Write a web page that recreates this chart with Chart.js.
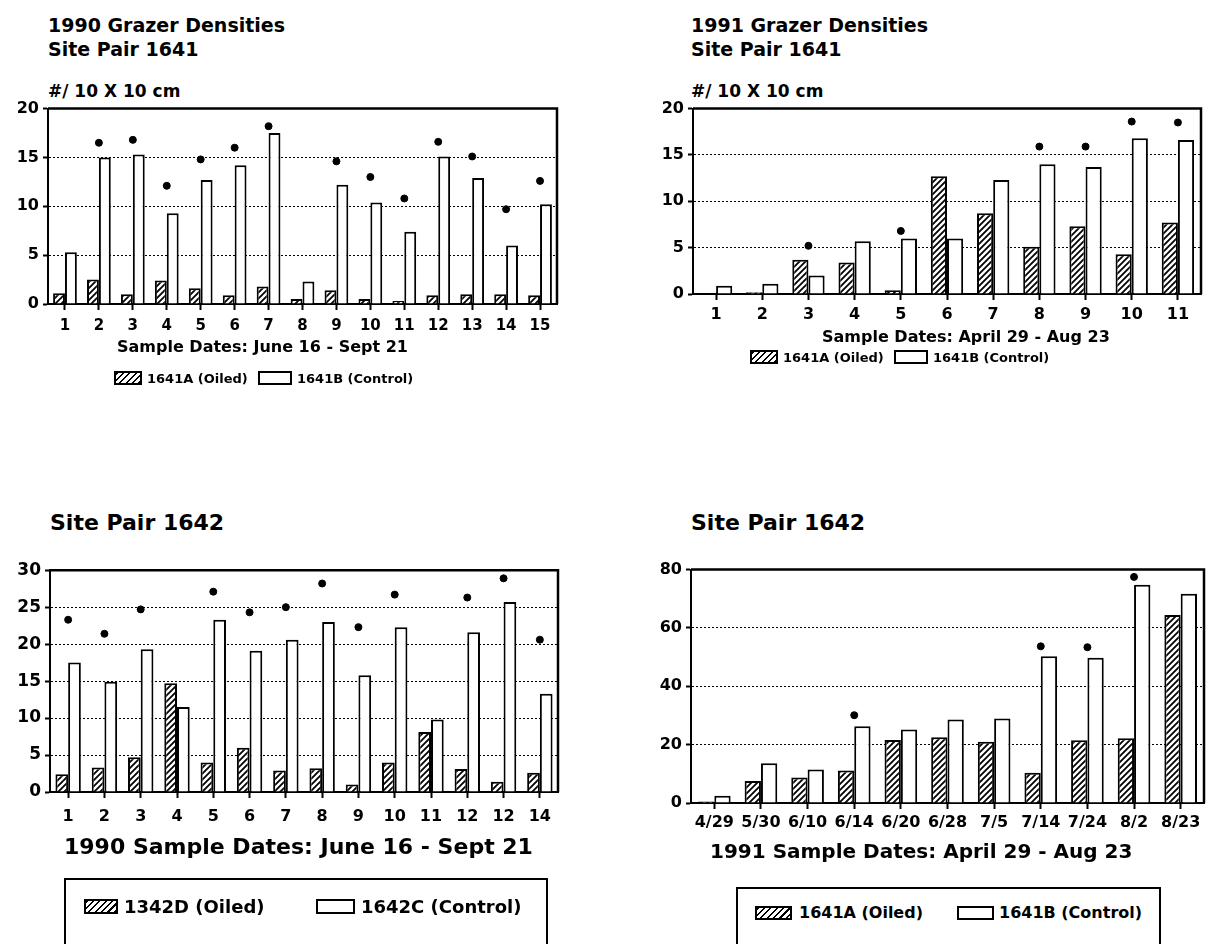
<!DOCTYPE html>
<html>
<head>
<meta charset="utf-8">
<script src="https://cdn.jsdelivr.net/npm/chart.js@4.4.0/dist/chart.umd.min.js"></script>
<style>
  body { margin:0; width:1209px; height:944px; background:#fff; position:relative; overflow:hidden;
         font-family:"DejaVu Sans", sans-serif; font-weight:bold; color:#000; }
  .t { position:absolute; white-space:nowrap; line-height:1; }
  canvas { position:absolute; }
  .sw { position:absolute; border:2px solid #000; box-sizing:border-box; background:#fff; }
  .sw.hatch { background:repeating-linear-gradient(135deg, #000 0 1.6px, #fff 1.6px 4.5px); }
  .lbox { position:absolute; border:2px solid #000; box-sizing:border-box; }
</style>
</head>
<body>

<!-- top left -->
<div class="t" style="left:48px;top:13px;font-size:19px;line-height:24px">1990 Grazer Densities<br>Site Pair 1641</div>
<div class="t" style="left:48px;top:83px;font-size:17px">#/ 10 X 10 cm</div>
<canvas id="c1" width="565" height="250" style="left:0;top:95px"></canvas>
<div class="t" style="left:117px;top:339px;font-size:16px">Sample Dates: June 16 - Sept 21</div>
<div class="sw hatch" style="left:114px;top:371px;width:28px;height:14px"></div>
<div class="t" style="left:147px;top:372px;font-size:13px">1641A (Oiled)</div>
<div class="sw" style="left:258px;top:371px;width:34px;height:14px"></div>
<div class="t" style="left:297px;top:372px;font-size:13px">1641B (Control)</div>

<!-- top right -->
<div class="t" style="left:691px;top:13px;font-size:19px;line-height:24px">1991 Grazer Densities<br>Site Pair 1641</div>
<div class="t" style="left:691px;top:83px;font-size:17px">#/ 10 X 10 cm</div>
<canvas id="c2" width="609" height="235" style="left:600px;top:95px"></canvas>
<div class="t" style="left:822px;top:329px;font-size:16px">Sample Dates: April 29 - Aug 23</div>
<div class="sw hatch" style="left:750px;top:350px;width:28px;height:14px"></div>
<div class="t" style="left:783px;top:351px;font-size:13px">1641A (Oiled)</div>
<div class="sw" style="left:894px;top:350px;width:34px;height:14px"></div>
<div class="t" style="left:933px;top:351px;font-size:13px">1641B (Control)</div>

<!-- bottom left -->
<div class="t" style="left:50px;top:512px;font-size:22px">Site Pair 1642</div>
<canvas id="c3" width="565" height="284" style="left:0;top:556px"></canvas>
<div class="t" style="left:64px;top:836px;font-size:22px">1990 Sample Dates: June 16 - Sept 21</div>
<div class="lbox" style="left:64px;top:878px;width:484px;height:68px"></div>
<div class="sw hatch" style="left:84px;top:899px;width:34px;height:15px"></div>
<div class="t" style="left:124px;top:898px;font-size:18px">1342D (Oiled)</div>
<div class="sw" style="left:316px;top:899px;width:39px;height:15px"></div>
<div class="t" style="left:361px;top:898px;font-size:18px">1642C (Control)</div>

<!-- bottom right -->
<div class="t" style="left:691px;top:512px;font-size:22px">Site Pair 1642</div>
<canvas id="c4" width="609" height="284" style="left:600px;top:556px"></canvas>
<div class="t" style="left:710px;top:841px;font-size:20px">1991 Sample Dates: April 29 - Aug 23</div>
<div class="lbox" style="left:736px;top:887px;width:425px;height:60px"></div>
<div class="sw hatch" style="left:755px;top:906px;width:37px;height:14px"></div>
<div class="t" style="left:799px;top:905px;font-size:16px">1641A (Oiled)</div>
<div class="sw" style="left:957px;top:906px;width:37px;height:14px"></div>
<div class="t" style="left:999px;top:905px;font-size:16px">1641B (Control)</div>

<script>
// 1990, site pair 1641
const dates1641_90 = ["1","2","3","4","5","6","7","8","9","10","11","12","13","14","15"];
const oiled1641_90 = [1.1, 2.5, 1.0, 2.4, 1.6, 0.9, 1.8, 0.5, 1.4, 0.5, 0.3, 0.9, 1.0, 1.0, 0.9];
const control1641_90 = [5.3, 15.0, 15.3, 9.3, 12.7, 14.2, 17.5, 2.3, 12.2, 10.4, 7.4, 15.1, 12.9, 6.0, 10.2];
const marks1641_90 = [null, 16.5, 16.8, 12.1, 14.8, 16.0, 18.2, null, 14.6, 13.0, 10.8, 16.6, 15.1, 9.7, 12.6];

// 1991, site pair 1641
const dates1641_91 = ["1","2","3","4","5","6","7","8","9","10","11"];
const oiled1641_91 = [0, 0.2, 3.7, 3.4, 0.4, 12.7, 8.7, 5.1, 7.3, 4.3, 7.7];
const control1641_91 = [0.9, 1.1, 2.0, 5.7, 6.0, 6.0, 12.3, 14.0, 13.7, 16.8, 16.6];
const marks1641_91 = [null, null, 5.2, null, 6.8, null, null, 15.9, 15.9, 18.6, 18.5];

// 1990, site pair 1642
const dates1642_90 = ["1","2","3","4","5","6","7","8","9","10","11","12","12","14"];
const oiled1642_90 = [2.4, 3.3, 4.7, 14.7, 4.0, 6.0, 2.9, 3.2, 1.0, 4.0, 8.1, 3.1, 1.4, 2.6];
const control1642_90 = [17.5, 14.9, 19.3, 11.5, 23.3, 19.1, 20.6, 23.0, 15.8, 22.3, 9.8, 21.6, 25.7, 13.3];
const marks1642_90 = [23.3, 21.4, 24.7, null, 27.1, 24.3, 25.0, 28.2, 22.3, 26.7, null, 26.3, 28.9, 20.6];

// 1991, site pair 1642
const dates1642_91 = ["4/29","5/30","6/10","6/14","6/20","6/28","7/5","7/14","7/24","8/2","8/23"];
const oiled1642_91 = [0.5, 7.5, 8.7, 11.1, 21.6, 22.5, 21.0, 10.4, 21.5, 22.2, 64.4];
const control1642_91 = [2.5, 13.6, 11.5, 26.3, 25.2, 28.6, 29.0, 50.3, 49.8, 74.8, 71.7];
const marks1642_91 = [null, null, null, 30.1, null, null, null, 53.7, 53.4, 77.5, null];

// diagonal hatch for the oiled bars
function hatch() {
  const c = document.createElement("canvas");
  c.width = 6; c.height = 6;
  const g = c.getContext("2d");
  g.fillStyle = "#fff";
  g.fillRect(0, 0, 6, 6);
  g.strokeStyle = "#000";
  g.lineWidth = 1.8;
  g.beginPath();
  g.moveTo(-1, 7); g.lineTo(7, -1);
  g.moveTo(-1, 1); g.lineTo(1, -1);
  g.moveTo(5, 7); g.lineTo(7, 5);
  g.stroke();
  return g.createPattern(c, "repeat");
}

// solid top and right edge of the plot box
const frame = {
  id: "frame",
  afterDraw(chart) {
    const a = chart.chartArea, ctx = chart.ctx;
    ctx.save();
    ctx.strokeStyle = "#000";
    ctx.lineWidth = 2.5;
    ctx.beginPath();
    ctx.moveTo(a.left, a.top);
    ctx.lineTo(a.right, a.top);
    ctx.lineTo(a.right, a.bottom);
    ctx.stroke();
    ctx.restore();
  }
};

function grazerChart(id, labels, oiled, control, marks, o) {
  const font = size => ({ family: "DejaVu Sans", weight: "bold", size: size });
  return new Chart(document.getElementById(id), {
    type: "bar",
    data: {
      labels: labels,
      datasets: [
        { label: "Oiled", data: oiled, backgroundColor: hatch(), borderColor: "#000", borderWidth: 2,
          categoryPercentage: 0.7, barPercentage: 1, order: 1 },
        { label: "Control", data: control, backgroundColor: "#fff", borderColor: "#000", borderWidth: 2,
          categoryPercentage: 0.7, barPercentage: 1, order: 1 },
        { type: "line", label: "marks", data: marks, showLine: false, pointRadius: 3.5,
          pointBackgroundColor: "#000", pointBorderColor: "#000", order: 0 }
      ]
    },
    options: {
      responsive: false,
      animation: false,
      events: [],
      layout: { padding: { top: 10, right: o.padRight, left: 0, bottom: 0 } },
      plugins: { legend: { display: false }, tooltip: { enabled: false } },
      scales: {
        x: {
          grid: { offset: false, drawOnChartArea: false, tickLength: 6, tickWidth: 2, tickColor: "#000" },
          border: { color: "#000", width: 2 },
          ticks: { color: "#000", font: font(o.xFont), padding: o.xPad, autoSkip: false, maxRotation: 0 },
          afterFit(s) { s.height = o.xH; }
        },
        y: {
          min: 0, max: o.max,
          ticks: { stepSize: o.step, color: "#000", font: font(o.yFont), padding: 4 },
          grid: { color: "#000", lineWidth: 1, tickLength: 5, tickWidth: 2, tickColor: "#000" },
          border: { color: "#000", width: 2, dash: [2, 2] },
          afterFit(s) { s.width = o.yW; }
        }
      }
    },
    plugins: [frame]
  });
}

grazerChart("c1", dates1641_90, oiled1641_90, control1641_90, marks1641_90,
  { max: 20, step: 5, yW: 48, xH: 41, padRight: 8, xFont: 15, yFont: 16, xPad: 7 });
grazerChart("c2", dates1641_91, oiled1641_91, control1641_91, marks1641_91,
  { max: 20, step: 5, yW: 93, xH: 36, padRight: 8, xFont: 16, yFont: 16, xPad: 5 });
grazerChart("c3", dates1642_90, oiled1642_90, control1642_90, marks1642_90,
  { max: 30, step: 5, yW: 50, xH: 48, padRight: 7, xFont: 16, yFont: 17, xPad: 9 });
grazerChart("c4", dates1642_91, oiled1642_91, control1642_91, marks1642_91,
  { max: 80, step: 20, yW: 91, xH: 37, padRight: 5, xFont: 16, yFont: 16, xPad: 4 });
</script>
</body>
</html>
